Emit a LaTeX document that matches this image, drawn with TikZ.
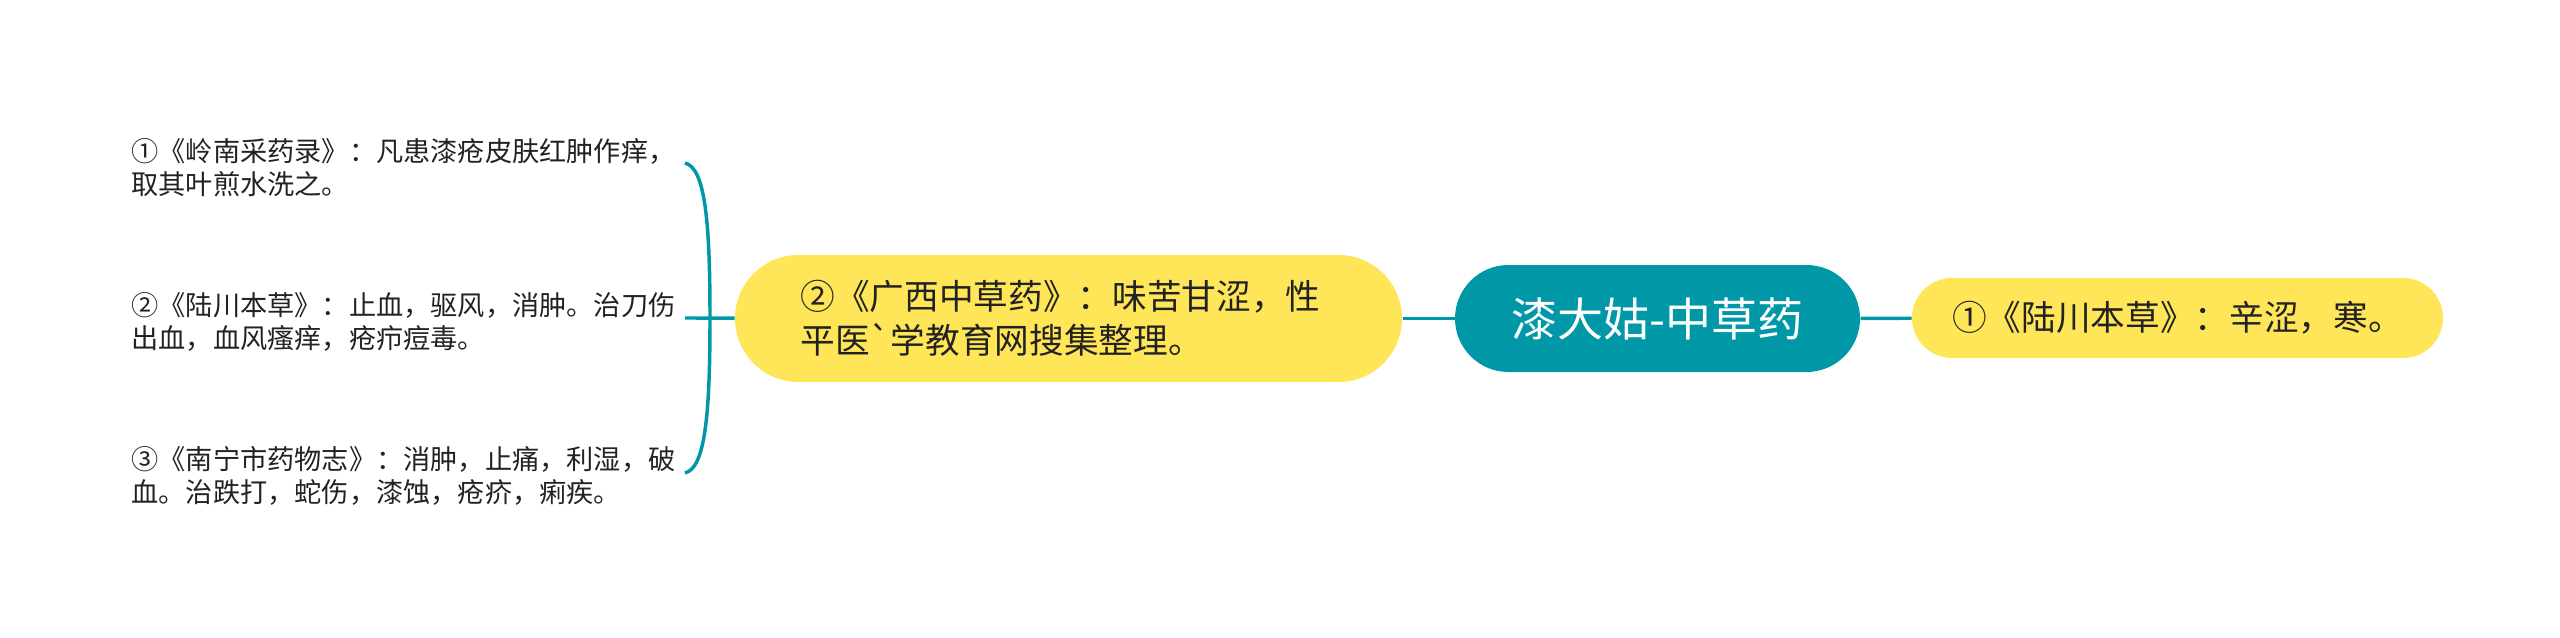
\documentclass[tikz,border=0pt]{standalone}
\usepackage{fontspec}
\newfontfamily\cjk{Noto Sans CJK SC}

\definecolor{tealline}{RGB}{0,151,167}
\definecolor{yellowfill}{RGB}{255,229,88}
\definecolor{darkink}{RGB}{34,34,34}

\tikzset{every picture/.style={line width=0.75pt}}
\tikzset{
	rootnode/.style={rectangle, fill=tealline, draw opacity=0, rounded corners=40.1pt, minimum width=303.75pt, minimum height=80.25pt, text=white, font=\cjk\fontsize{34.5pt}{40pt}\selectfont},
	topicnode/.style={rectangle, fill=yellowfill, draw opacity=0, text=darkink, align=left, font=\cjk\fontsize{26pt}{33pt}\selectfont},
	leafnode/.style={anchor=west, inner sep=0pt, text width=415pt, align=left, text=darkink, font=\cjk\fontsize{20.4pt}{24.75pt}\selectfont},
	linkline/.style={color=tealline, line width=2.6pt}
}

\begin{document}
\begin{tikzpicture}[x=0.75pt,y=0.75pt,yscale=-1,xscale=1]
	%set diagram size: 2560 x 638
	\path (0,0) rectangle (2560,638);

	%Shape: Rounded Rect [root]
	\node [rootnode] (root) at (1657.5,318.5) {漆大姑-中草药};
	%Shape: Rounded Rect [right topic]
	\node [topicnode, rounded corners=30pt, minimum width=398.25pt, minimum height=60pt] (lcbc) at (2177.5,318) {①《陆川本草》：辛涩，寒。};
	%Shape: Rounded Rect [left topic]
	\node [topicnode, rounded corners=47.6pt, minimum width=500.25pt, minimum height=95.25pt, text width=402pt] (gxzcy) at (1068.5,318.5) {②《广西中草药》：味苦甘涩，性\\平医{\char"60}学教育网搜集整理。};

	%Text nodes [left leaves]
	\node [leafnode] (lnycyl) at (131,168) {①《岭南采药录》：凡患漆疮皮肤红肿作痒，\\取其叶煎水洗之。};
	\node [leafnode] (lcbc2) at (131,322) {②《陆川本草》：止血，驱风，消肿。治刀伤\\出血，血风瘙痒，疮疖痘毒。};
	\node [leafnode] (nnswz) at (131,476) {③《南宁市药物志》：消肿，止痛，利湿，破\\血。治跌打，蛇伤，漆蚀，疮疥，痢疾。};

	%Straight Lines
	\draw [linkline] (root) -- (lcbc);
	\draw [linkline] (root) -- (gxzcy);

	%Curve Lines [bracket]
	\coordinate (btop) at (685,163);
	\coordinate (bbot) at (685,473);
	\coordinate (bstub) at (685,318);
	\draw [linkline] (btop) .. controls (705,168) and (710,220) .. (710,318) .. controls (710,416) and (705,468) .. (bbot);
	\draw [linkline] (bstub) -- (gxzcy);

\end{tikzpicture}
\end{document}
